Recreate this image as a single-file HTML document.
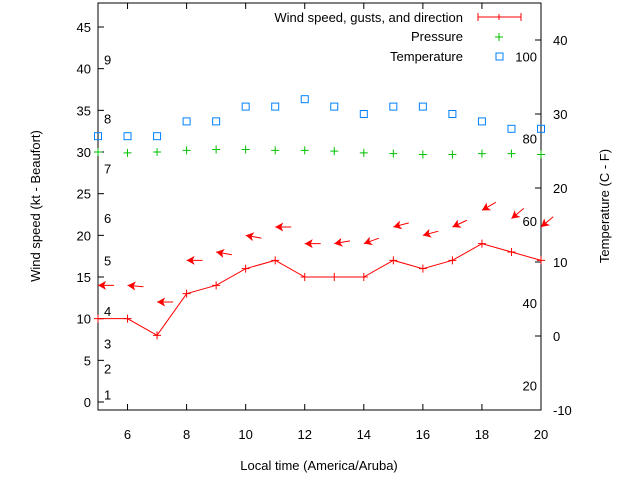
<!DOCTYPE html>
<html><head><meta charset="utf-8"><style>
body{margin:0;background:#fff}
svg text{font-family:"Liberation Sans",sans-serif;font-size:13px;fill:#000}
</style></head><body>
<svg id="c" width="640" height="480" xmlns="http://www.w3.org/2000/svg"></svg>
<script>
const hours=[5,6,7,8,9,10,11,12,13,14,15,16,17,18,19,20];
const windSpeed=[10,10,8,13,14,16,17,15,15,15,17,16,17,19,18,17];
const gusts=[14,14,12,17,18,20,21,19,19,19,21,20,21,23,22,21];
const windDir=[90,95,90,90,100,100,90,90,80,70,75,75,65,60,50,50];
const pressure=[30,29.9,30,30.2,30.3,30.3,30.2,30.2,30.1,29.9,29.8,29.7,29.7,29.8,29.8,29.7];
const tempC=[27,27,27,29,29,31,31,32,31,30,31,31,30,29,28,28];
const leftTicks=[0,5,10,15,20,25,30,35,40,45];
const rightTicks=[-10,0,10,20,30,40];
const xTicks=[6,8,10,12,14,16,18,20];
const beaufortNums=[1,2,3,4,5,6,7,8,9];
const beaufortKt=[0.9,4,7,10.9,17,22.1,28,34,41.1];
const fTicks=[20,40,60,80,100];

const L=98,R=541,T=3,B=410;
const X=h=>L+(h-5)*(R-L)/15;
const YL=v=>402-v*8.333;
const YR=c=>336-c*7.4;
const svg=document.getElementById('c');
const NS='http://www.w3.org/2000/svg';
function add(tag,attrs,name,text){const e=document.createElementNS(NS,tag);for(const k in attrs)e.setAttribute(k,attrs[k]);


if(text!==undefined)e.textContent=text;svg.appendChild(e);return e;}

add('rect',{x:L,y:T,width:R-L,height:B-T,fill:'none',stroke:'#000','stroke-width':1},'plot-frame');
leftTicks.forEach(v=>{const y=YL(v);add('line',{x1:L,y1:y,x2:L+6,y2:y,stroke:'#000'},'y-tick');
add('text',{x:91,y:y+5,'text-anchor':'end'},'y-tick-label',v);});
rightTicks.forEach(v=>{const y=YR(v);add('line',{x1:R-6,y1:y,x2:R,y2:y,stroke:'#000'},'y2-tick');
add('text',{x:553,y:y+5},'y2-tick-label',v);});
xTicks.forEach(h=>{const x=X(h);add('line',{x1:x,y1:B,x2:x,y2:B-6,stroke:'#000'},'x-tick');
add('line',{x1:x,y1:T,x2:x,y2:T+6,stroke:'#000'},'x-tick-top');
add('text',{x:x,y:B+29,'text-anchor':'middle'},'x-tick-label',h);});
beaufortNums.forEach((n,i)=>add('text',{x:104,y:YL(beaufortKt[i])+5},'beaufort-label',n));
fTicks.forEach(f=>add('text',{x:537,y:YR((f-32)*5/9)+5,'text-anchor':'end'},'fahrenheit-label',f));

add('text',{x:319,y:470,'text-anchor':'middle'},'x-axis-title','Local time (America/Aruba)');
add('text',{x:0,y:0,'text-anchor':'middle',transform:'translate(40,206) rotate(-90)'},'y-axis-title','Wind speed (kt - Beaufort)');
add('text',{x:0,y:0,'text-anchor':'middle',transform:'translate(609,206) rotate(-90)'},'y2-axis-title','Temperature (C - F)');

add('polyline',{points:hours.map((h,i)=>X(h)+','+YL(windSpeed[i])).join(' '),fill:'none',stroke:'#f00'},'wind-speed-line');
hours.forEach((h,i)=>{const x=X(h),y=YL(windSpeed[i]);
add('path',{d:`M${x-4},${y}H${x+4}M${x},${y-4}V${y+4}`,stroke:'#f00'},'wind-point');
const y2=YL(gusts[i]),a=windDir[i]*Math.PI/180,dx=Math.sin(a),dy=-Math.cos(a);
add('line',{x1:x,y1:y2,x2:x+dx*16,y2:y2+dy*16,stroke:'#f00'},'gust-arrow-tail');
const px=-dy,py=dx;
add('polygon',{points:`${x},${y2} ${x+dx*8+px*4.5},${y2+dy*8+py*4.5} ${x+dx*6},${y2+dy*6} ${x+dx*8-px*4.5},${y2+dy*8-py*4.5}`,fill:'#f00'},'gust-arrow-head');});
hours.forEach((h,i)=>{const x=X(h),y=YL(pressure[i]);
add('path',{d:`M${x-4},${y}H${x+4}M${x},${y-4}V${y+4}`,stroke:'#00c000'},'pressure-point');});
hours.forEach((h,i)=>{const x=X(h),y=YR(tempC[i]);
add('rect',{x:x-3.5,y:y-3.5,width:7,height:7,fill:'none',stroke:'#0080ff'},'temperature-point');});

add('text',{x:463,y:22,'text-anchor':'end'},'legend-wind-label','Wind speed, gusts, and direction');
add('path',{d:'M478,17H521M478,13V21M521,13V21M499,14V20',stroke:'#f00'},'legend-wind-sample');
add('text',{x:463,y:41,'text-anchor':'end'},'legend-pressure-label','Pressure');
add('path',{d:'M495,37H503M499,33V41',stroke:'#00c000'},'legend-pressure-sample');
add('text',{x:463,y:61,'text-anchor':'end'},'legend-temperature-label','Temperature');
add('rect',{x:496,y:53,width:7,height:7,fill:'none',stroke:'#0080ff'},'legend-temperature-sample');
</script>
</body></html>
